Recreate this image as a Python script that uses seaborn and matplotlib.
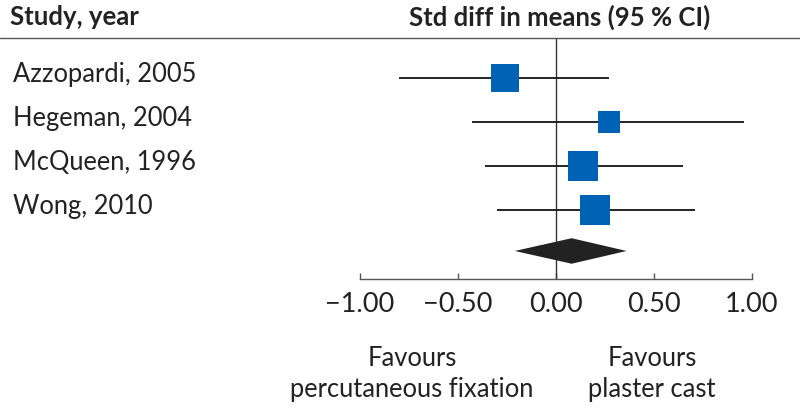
import matplotlib
matplotlib.use("Agg")
import numpy as np
import pandas as pd
import seaborn as sns
import matplotlib.pyplot as plt
from matplotlib.lines import Line2D
from matplotlib import transforms

# study data (std diff in means, 95% CI)
studies = ["Azzopardi, 2005", "Hegeman, 2004", "McQueen, 1996", "Wong, 2010"]
estimate = [-0.26, 0.27, 0.14, 0.20]
ci_low = [-0.80, -0.43, -0.36, -0.30]
ci_high = [0.27, 0.96, 0.65, 0.71]
weight = [28, 22, 30, 30]

# pooled estimate
pooled = 0.08
pooled_low = -0.21
pooled_high = 0.36

ticks = [-1.0, -0.5, 0.0, 0.5, 1.0]
tick_labels = ["\u22121.00", "\u22120.50", "0.00", "0.50", "1.00"]

sns.set_theme(style="white")
plt.rcParams["font.family"] = ["Lato", "DejaVu Sans"]

df = pd.DataFrame({"study": studies, "est": estimate, "lo": ci_low,
                   "hi": ci_high, "w": weight})
df["row"] = np.arange(len(df))
# marker area in pt^2 from pixel side length
df["size"] = (df["w"] * 0.72) ** 2

fig = plt.figure(figsize=(8, 4.12), dpi=100)
ax = fig.add_axes([360 / 800, (412 - 279) / 412, 392 / 800, (279 - 38) / 412])

ax.hlines(df["row"], df["lo"], df["hi"], color="#222222", lw=1.4, zorder=2)
sns.scatterplot(data=df, x="est", y="row", size="size", sizes=(df["size"].min(), df["size"].max()),
                marker="s", color="#0062b4", edgecolor="none", legend=False, ax=ax, zorder=3)

prow = len(df) - 0.08
ax.fill([pooled_low, pooled, pooled_high, pooled],
        [prow, prow - 0.29, prow, prow + 0.29], color="#222222", zorder=3, lw=0)

ax.axvline(0, color="#333333", lw=1.0, zorder=1)

ax.set_xlim(-1, 1)
ax.set_ylim(4.557, -0.920)
ax.set_xticks(ticks)
ax.set_xticklabels(tick_labels, fontsize=19.5, color="#222222")
ax.set_yticks([])
ax.set_xlabel("")
ax.set_ylabel("")
for s in ["left", "right", "top"]:
    ax.spines[s].set_visible(False)
ax.spines["bottom"].set_color("#555555")
ax.spines["bottom"].set_linewidth(1.0)
ax.tick_params(axis="x", direction="in", length=4, width=1.0, color="#555555", pad=9,
               bottom=True)

# header
fig.text(10 / 800, 1 - 17 / 412, "Study, year", fontsize=18.5, fontweight="bold",
         color="#222222", ha="left", va="center")
fig.text(560 / 800, 1 - 17 / 412, "Std diff in means (95 % CI)", fontsize=18.5,
         fontweight="bold", color="#222222", ha="center", va="center")
fig.add_artist(Line2D([0, 1], [1 - 38 / 412, 1 - 38 / 412], transform=fig.transFigure,
                      color="#555555", lw=1.0))

# study labels
trans = transforms.blended_transform_factory(fig.transFigure, ax.transData)
for r, name in zip(df["row"], df["study"]):
    fig.text(13 / 800, r - 0.08, name, transform=trans, fontsize=18.4, color="#222222",
             ha="left", va="center")

fig.text(412 / 800, 1 - 374 / 412, "Favours\npercutaneous fixation", fontsize=18.4,
         color="#222222", ha="center", va="center", linespacing=1.35)
fig.text(652 / 800, 1 - 374 / 412, "Favours\nplaster cast", fontsize=18.4,
         color="#222222", ha="center", va="center", linespacing=1.35)

fig.savefig("out.png", dpi=100)
